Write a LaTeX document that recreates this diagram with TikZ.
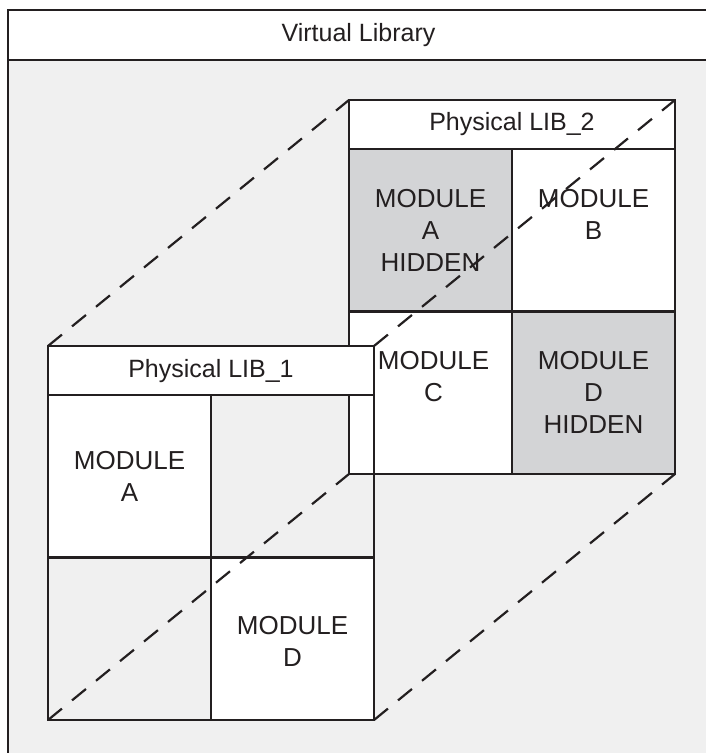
\documentclass[tikz,border=0pt]{standalone}
\usepackage{fontspec}
\setmainfont{Liberation Sans}
\usetikzlibrary{positioning}
\definecolor{backgray}{RGB}{240,240,240}
\definecolor{hidegray}{RGB}{211,212,214}
\definecolor{inkline}{RGB}{35,31,32}

\begin{document}
\begin{tikzpicture}
	[x=1pt, y=-1pt, line width=2.2pt, inkline,
	 box/.style={draw, rectangle, inner sep=0pt, outer sep=0pt, anchor=north west},
	 libhead/.style={box, fill=white, minimum width=326pt, minimum height=49pt},
	 cell/.style={box, minimum width=163pt, minimum height=162.5pt},
	 hidden/.style={cell, fill=hidegray},
	 shown/.style={cell, fill=white},
	 blank/.style={cell},
	 modtext/.style={font=\fontsize{26}{32}\selectfont, align=center, inner sep=0pt, anchor=north},
	 headtext/.style={font=\fontsize{25}{32}\selectfont, inner sep=0pt},
	 link/.style={dash pattern=on 18pt off 13pt}]
   \useasboundingbox (0,0) rectangle (706,753);
   \clip (0,0) rectangle (706,753);
   % virtual library frame
   \node[box, fill=backgray, minimum width=701pt, minimum height=750pt] (vlib) at (8,10) {};
   \node[box, fill=white, minimum width=701pt, minimum height=50pt] (vhead) at (8,10) {};
   \node[headtext] (vtitle) at (vhead.center) {Virtual Library};
   % physical lib 2 (behind)
   \node[libhead] (lib2head) at (349,100) {};
   \node[hidden] (lib2a) [below right=0pt and 0pt of lib2head.south west] {};
   \node[shown] (lib2b) [below right=0pt and 0pt of lib2a.north east] {};
   \node[shown] (lib2c) [below right=0pt and 0pt of lib2a.south west] {};
   \node[hidden] (lib2d) [below right=0pt and 0pt of lib2a.south east] {};
   \node[box, minimum width=326pt, minimum height=374pt] (lib2) at (lib2head.north west) {};
   \node[headtext] (lib2title) at (lib2head.center) {Physical LIB\_2};
   \node[modtext] (lib2atext) at ([yshift=-39pt]lib2a.north) {MODULE\\A\\HIDDEN};
   \node[modtext] (lib2btext) at ([yshift=-39pt]lib2b.north) {MODULE\\B};
   \node[modtext] (lib2ctext) at ([xshift=3pt, yshift=-38.5pt]lib2c.north) {MODULE\\C};
   \node[modtext] (lib2dtext) at ([yshift=-38.5pt]lib2d.north) {MODULE\\D\\HIDDEN};
   % physical lib 1 (front)
   \node[libhead] (lib1head) at (48,346) {};
   \node[shown] (lib1a) [below right=0pt and 0pt of lib1head.south west] {};
   \node[blank] (lib1b) [below right=0pt and 0pt of lib1a.north east] {};
   \node[blank] (lib1c) [below right=0pt and 0pt of lib1a.south west] {};
   \node[shown] (lib1d) [below right=0pt and 0pt of lib1a.south east] {};
   \node[box, minimum width=326pt, minimum height=374pt] (lib1) at (lib1head.north west) {};
   \node[headtext] (lib1title) at ([yshift=-1pt]lib1head.center) {Physical LIB\_1};
   \node[modtext] (lib1atext) at ([yshift=-55pt]lib1a.north) {MODULE\\A};
   \node[modtext] (lib1dtext) at ([yshift=-57.5pt]lib1d.north) {MODULE\\D};
   % projection lines
   \draw[link] (lib1.north west) -- (lib2.north west);
   \draw[link] (lib1.north east) -- (lib2.north east);
   \draw[link] (lib1.south west) -- (lib2.south west);
   \draw[link] (lib1.south east) -- (lib2.south east);
\end{tikzpicture}
\end{document}
